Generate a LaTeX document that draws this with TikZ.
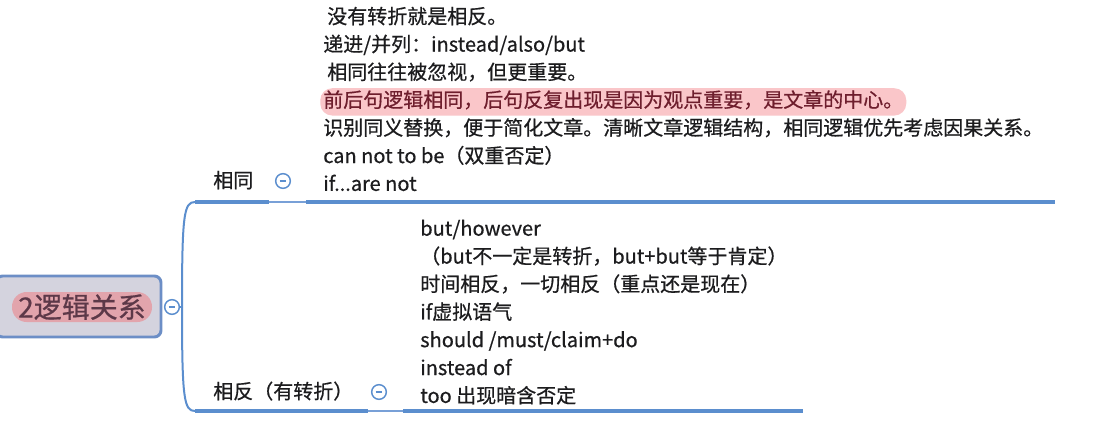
\documentclass[tikz,border=0pt]{standalone}
\usepackage{fontspec}
\setmainfont{Noto Sans CJK SC}[FakeBold=0.6]
\usepackage{xcolor}
\usepackage{tikz}
\usetikzlibrary{positioning, calc}
\definecolor{linkblue}{RGB}{91, 142, 206}
\definecolor{thinblue}{RGB}{120, 160, 215}
\definecolor{rootfill}{RGB}{212, 211, 222}
\definecolor{rootdraw}{RGB}{108, 142, 198}
\definecolor{pillpink}{RGB}{226, 164, 172}
\definecolor{rootink}{RGB}{92, 56, 72}
\definecolor{notepink}{RGB}{250, 198, 201}
\definecolor{noteink}{RGB}{110, 30, 45}
\definecolor{inkgray}{RGB}{28, 28, 30}

\begin{document}
\begin{tikzpicture}[
    x=0.75pt, y=-0.75pt,
    note/.style={
        anchor=north west, inner sep=0pt, text height=14.3pt, text depth=6.2pt,
        font=\fontsize{15}{18}\selectfont, text=inkgray
    },
    rootbox/.style={
        rectangle, draw=rootdraw, fill=rootfill, line width=2.2pt,
        rounded corners=5pt, minimum width=123.75pt, minimum height=45.75pt
    },
    pill/.style={
        fill=pillpink, text=rootink, rounded corners=11pt, inner sep=0pt,
        minimum width=105pt, minimum height=22.5pt, font=\fontsize{21}{24}\selectfont
    },
    btn/.style={
        circle, draw=linkblue, fill=white, line width=1.1pt, minimum size=11pt, inner sep=0pt,
        path picture={\draw[linkblue, line width=0.9pt]
            ([xshift=-2.6pt]path picture bounding box.center) -- ([xshift=2.6pt]path picture bounding box.center);}
    },
    link/.style={draw=linkblue, line width=1.5pt},
    bar/.style={draw=linkblue, line width=3pt},
    thinbar/.style={draw=thinblue, line width=1.5pt}
]
    \useasboundingbox[fill=white] (0,0) rectangle (1120,425);

    % root topic
    \node [rootbox] (rootbox) at (78.5,306.5) {};
    \node [pill]    (root)    at (82,307) {2逻辑关系};
    \node [btn]     (rootbtn) at (172,307) {};

    % branch topics
    \node [note] (same)    at (213,168.35) {相同};
    \node [btn]  (samebtn) at (283,181) {};
    \node [note] (oppo)    at (213,379.35) {相反（有转折）};
    \node [btn]  (oppobtn) at (379,392) {};

    % notes of 相同
    \node [note] (s1) at (327,4.35) {没有转折就是相反。};
    \node [note, below=0pt of s1.south west, anchor=north west, xshift=-3pt] (s2) {递进/并列：instead/also/but};
    \node [note, below=0pt of s2.south west, anchor=north west, xshift=3pt]  (s3) {相同往往被忽视，但更重要。};
    \node [note, below=0pt of s3.south west, anchor=north west, xshift=-5.25pt,
           fill=notepink, text=noteink, inner xsep=2.25pt, rounded corners=9pt] (s4)
           {前后句逻辑相同，后句反复出现是因为观点重要，是文章的中心。};
    \node [note, below=0pt of s4.south west, anchor=north west, xshift=2.25pt] (s5)
           {识别同义替换，便于简化文章。清晰文章逻辑结构，相同逻辑优先考虑因果关系。};
    \node [note, below=0pt of s5.south west, anchor=north west] (s6) {can not to be（双重否定）};
    \node [note, below=0pt of s6.south west, anchor=north west] (s7) {if...are not};

    % notes of 相反
    \node [note] (b1) at (420,216.35) {but/however};
    \node [note, below=0pt of b1.south west, anchor=north west] (b2) {（but不一定是转折，but+but等于肯定）};
    \node [note, below=0pt of b2.south west, anchor=north west] (b3) {时间相反，一切相反（重点还是现在）};
    \node [note, below=0pt of b3.south west, anchor=north west] (b4) {if虚拟语气};
    \node [note, below=0pt of b4.south west, anchor=north west] (b5) {should /must/claim+do};
    \node [note, below=0pt of b5.south west, anchor=north west] (b6) {instead of};
    \node [note, below=0pt of b6.south west, anchor=north west] (b7) {too 出现暗含否定};

    % connectors
    \coordinate (fork)  at (182,307);
    \coordinate (sameL) at (195,202);
    \coordinate (sameA) at (269,202);
    \coordinate (sameB) at (306,202);
    \coordinate (sameR) at (1055,202);
    \coordinate (oppoL) at (195,411);
    \coordinate (oppoA) at (368,411);
    \coordinate (oppoB) at (403,411);
    \coordinate (oppoR) at (803,411);

    \path [link] (rootbtn.east) -- (fork);
    \path [link] (fork) .. controls (182,214) and (184,202) .. (sameL);
    \path [link] (fork) .. controls (182,399) and (184,411) .. (oppoL);
    \path [bar]     (sameL) -- (sameA);
    \path [thinbar] (sameA) -- (sameB);
    \path [bar]     (sameB) -- (sameR);
    \path [bar]     (oppoL) -- (oppoA);
    \path [thinbar] (oppoA) -- (oppoB);
    \path [bar]     (oppoB) -- (oppoR);
\end{tikzpicture}
\end{document}
